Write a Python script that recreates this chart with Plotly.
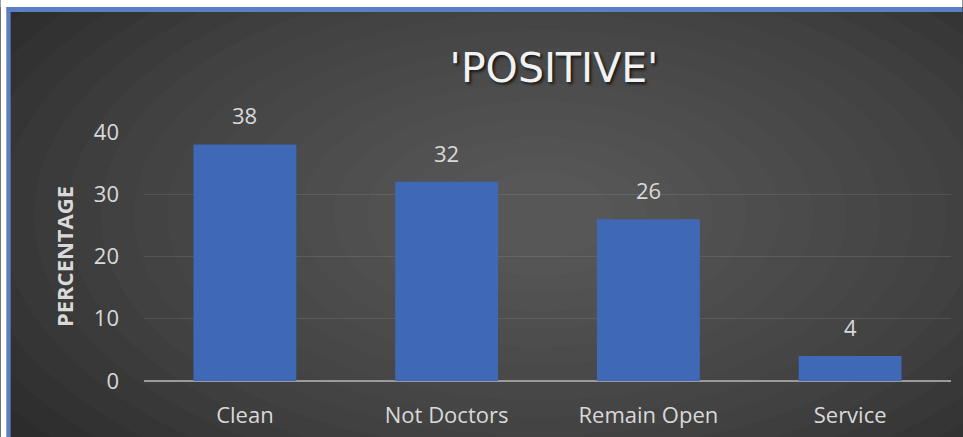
import plotly.graph_objects as go

categories = ["Clean", "Not Doctors", "Remain Open", "Service"]
values = [38, 32, 26, 4]
y_ticks = [0, 10, 20, 30, 40]
title_text = "'POSITIVE'"
y_title = "PERCENTAGE"

W, H = 963, 437
L, R, T, B = 143.5, 11.5, 132, 56
PW, PH = W - L - R, H - T - B

def px(x):
    return (x - L) / PW

def py(y):
    return (H - y - B) / PH

shapes = []
# radial vignette background
cx, cy = 540, 215
n = 18
for i in range(n):
    f = 1 - i / n
    rx, ry = 600 * f + 40, 320 * f + 25
    shapes.append(dict(type="circle", xref="paper", yref="paper", layer="below",
                       x0=px(cx - rx), x1=px(cx + rx), y0=py(cy + ry), y1=py(cy - ry),
                       fillcolor="rgba(255,255,255,0.017)", line=dict(width=0)))
# white margin strips and blue frame
shapes += [
    dict(type="rect", xref="paper", yref="paper", layer="above",
         x0=px(0), x1=px(W), y0=py(0), y1=py(7), fillcolor="white", line=dict(width=0)),
    dict(type="rect", xref="paper", yref="paper", layer="above",
         x0=px(0), x1=px(6), y0=py(0), y1=py(H), fillcolor="white", line=dict(width=0)),
    dict(type="rect", xref="paper", yref="paper", layer="above",
         x0=px(6), x1=px(W), y0=py(7), y1=py(12), fillcolor="#5b7fc4", line=dict(width=0)),
    dict(type="rect", xref="paper", yref="paper", layer="above",
         x0=px(6), x1=px(10), y0=py(7), y1=py(H), fillcolor="#5b7fc4", line=dict(width=0)),
]

fig = go.Figure()
fig.add_trace(go.Bar(x=categories, y=values, marker=dict(color="#3f68b7", line=dict(width=0)),
                     hoverinfo="x+y"))

annotations = [dict(x=c, y=v, xref="x", yref="y", text=str(v), showarrow=False,
                    yanchor="bottom", yshift=12,
                    font=dict(family="Open Sans", size=22, color="#d9d9d9"))
               for c, v in zip(categories, values)]

fig.update_layout(
    width=W, height=H,
    margin=dict(l=L, r=R, t=T, b=B, autoexpand=False),
    paper_bgcolor="#2c2c2c", plot_bgcolor="rgba(0,0,0,0)",
    bargap=0.49,
    showlegend=False,
    title=dict(text=title_text, x=px(554), xref="paper", xanchor="center",
               y=1 - 68 / H, yref="container", yanchor="middle",
               font=dict(family="DejaVu Sans", size=41, color="#f2f2f2",
                         shadow="2px 2px 3px rgba(0,0,0,0.7)")),
    xaxis=dict(showgrid=False, zeroline=False, showline=False,
               tickfont=dict(family="Open Sans", size=22, color="#d9d9d9"),
               ticklabelstandoff=19),
    yaxis=dict(range=[0, 40], tickvals=y_ticks, showgrid=True,
               gridcolor="rgba(255,255,255,0.09)", gridwidth=1,
               zeroline=True, zerolinecolor="#9a9a9a", zerolinewidth=2,
               showline=False,
               tickfont=dict(family="Open Sans", size=22, color="#d9d9d9"),
               ticklabelstandoff=24,
               title=dict(text=y_title, standoff=14,
                          font=dict(family="Open Sans", size=22, color="#d9d9d9", weight="bold"))),
    annotations=annotations,
    shapes=shapes,
)

fig.write_html("out.html", config={"displayModeBar": False},
               post_script="document.body.style.margin='0';document.body.style.overflow='hidden';")
